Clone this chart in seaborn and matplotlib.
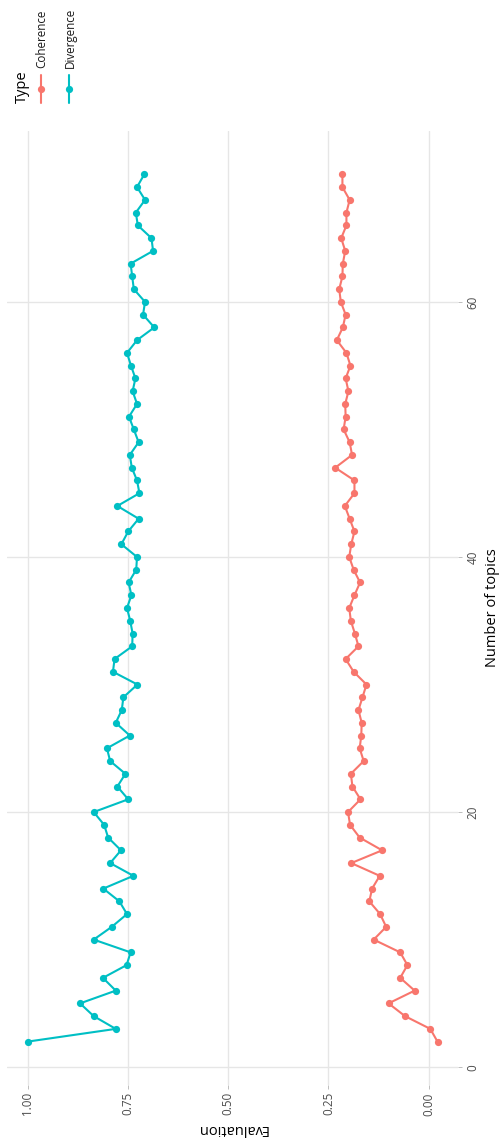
import matplotlib
matplotlib.use("Agg")
import matplotlib.pyplot as plt
from matplotlib.lines import Line2D
import numpy as np
import pandas as pd
import seaborn as sns

# Number of topics evaluated
topics = list(range(2, 71))

# Mean topic coherence for each model size
coherence = [
    -0.022, -0.004, 0.059, 0.100, 0.035, 0.071, 0.053, 0.071, 0.137, 0.106,
    0.121, 0.148, 0.141, 0.122, 0.193, 0.116, 0.172, 0.196, 0.201, 0.170,
    0.190, 0.194, 0.162, 0.172, 0.168, 0.167, 0.175, 0.165, 0.155, 0.187,
    0.207, 0.175, 0.184, 0.194, 0.198, 0.185, 0.171, 0.187, 0.198, 0.193,
    0.185, 0.197, 0.209, 0.185, 0.185, 0.233, 0.191, 0.197, 0.212, 0.207,
    0.208, 0.200, 0.207, 0.195, 0.205, 0.229, 0.214, 0.207, 0.219, 0.223,
    0.215, 0.214, 0.208, 0.218, 0.205, 0.205, 0.197, 0.215, 0.215,
]

# Mean topic divergence for each model size
divergence = [
    1.000, 0.780, 0.835, 0.869, 0.780, 0.812, 0.753, 0.743, 0.835, 0.790,
    0.752, 0.771, 0.811, 0.736, 0.794, 0.767, 0.799, 0.809, 0.835, 0.749,
    0.776, 0.756, 0.794, 0.802, 0.745, 0.780, 0.765, 0.761, 0.726, 0.787,
    0.783, 0.739, 0.738, 0.744, 0.752, 0.741, 0.748, 0.729, 0.727, 0.766,
    0.749, 0.723, 0.776, 0.721, 0.727, 0.740, 0.745, 0.723, 0.735, 0.747,
    0.727, 0.738, 0.731, 0.742, 0.752, 0.727, 0.684, 0.712, 0.707, 0.735,
    0.739, 0.743, 0.687, 0.691, 0.725, 0.730, 0.707, 0.727, 0.709,
]

types = ["Coherence", "Divergence"]
colors = {"Coherence": "#F8766D", "Divergence": "#00BFC4"}

topic_ticks = [0, 20, 40, 60]
eval_ticks = [0.0, 0.25, 0.50, 0.75, 1.0]
eval_labels = ["0.00", "0.25", "0.50", "0.75", "1.00"]

df = pd.DataFrame({
    "Number of topics": topics * 2,
    "Evaluation": coherence + divergence,
    "Type": ["Coherence"] * len(topics) + ["Divergence"] * len(topics),
})

sns.set_theme(style="whitegrid")
plt.rcParams["font.family"] = ["Open Sans", "DejaVu Sans"]

W, H = 500, 1140
fig = plt.figure(figsize=(W / 100, H / 100), dpi=100)
fig.patch.set_facecolor("white")

# panel placed in pixel terms (left, top, right, bottom)
pl, pt, pr, pb = 7, 131, 458, 1085
ax = fig.add_axes([pl / W, 1 - pb / H, (pr - pl) / W, (pb - pt) / H])
ax.set_facecolor("white")

sns.lineplot(
    data=df, x="Evaluation", y="Number of topics", hue="Type",
    hue_order=types, palette=colors, orient="y", sort=False,
    estimator=None, marker="o", markersize=5.2, markeredgewidth=0,
    linewidth=1.5, legend=False, ax=ax,
)

ax.margins(0.05)
ax.invert_xaxis()

ax.set_xticks(eval_ticks)
ax.set_xticklabels(eval_labels)
ax.set_yticks(topic_ticks)
ax.set_yticklabels([str(t) for t in topic_ticks])

ax.yaxis.tick_right()
ax.yaxis.set_label_position("right")

for s in ax.spines.values():
    s.set_visible(False)

ax.grid(True, color="#E6E6E6", linewidth=1.0)
ax.set_axisbelow(True)

ax.tick_params(axis="both", which="major", length=3.2, width=0.7,
               color="#BDBDBD", labelsize=8.4, labelcolor="#4D4D4D")
ax.tick_params(axis="x", bottom=True, pad=2, labelrotation=90)
ax.tick_params(axis="y", right=True, left=False, pad=3, labelrotation=90)
for lab in ax.get_yticklabels():
    lab.set_va("center")

ax.set_xlabel("Evaluation", fontsize=10.5, rotation=180, labelpad=4,
              color="black")
ax.set_ylabel("Number of topics", fontsize=10.5, rotation=90, labelpad=4,
              color="black")

# legend drawn vertically to follow the rotated layout
fig.text(22 / W, 1 - 103 / H, "Type", rotation=90, ha="center", va="bottom",
         fontsize=10.5, color="black")
for xpix, name in [(41, "Coherence"), (69, "Divergence")]:
    fig.add_artist(Line2D([xpix / W, xpix / W], [1 - 103 / H, 1 - 75 / H],
                          transform=fig.transFigure, color=colors[name],
                          linewidth=1.5))
    fig.add_artist(Line2D([xpix / W], [1 - 89 / H], transform=fig.transFigure,
                          marker="o", markersize=5.2, markeredgewidth=0,
                          color=colors[name]))
    fig.text((xpix + 1) / W, 1 - 68 / H, name, rotation=90, ha="center",
             va="bottom", fontsize=8.4, color="#1A1A1A")

fig.savefig("out.png", dpi=100, facecolor="white")
